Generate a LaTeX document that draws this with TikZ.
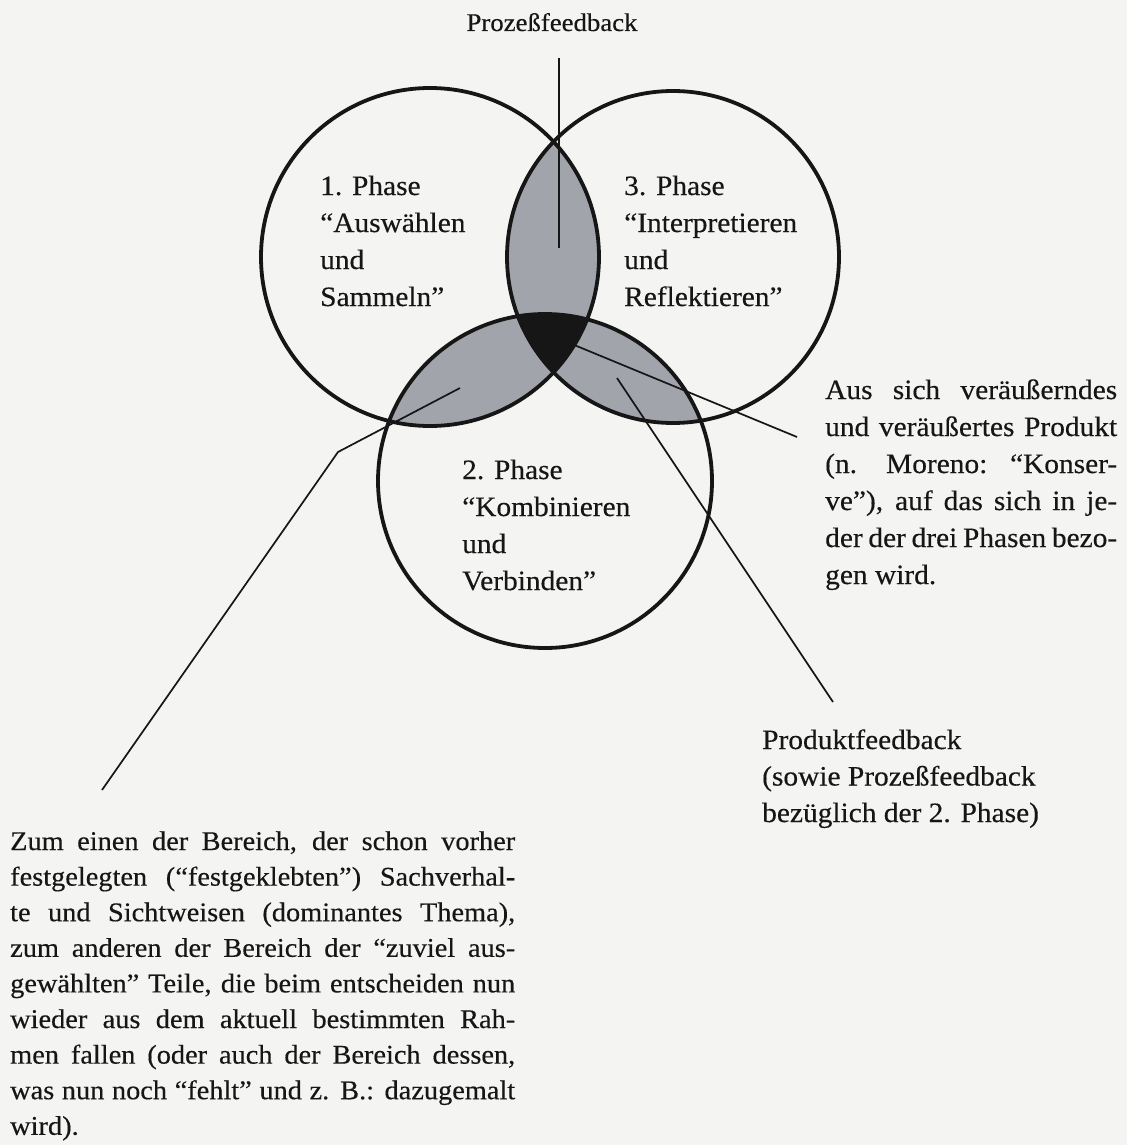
\documentclass[tikz,border=0pt]{standalone}
\usepackage{fontspec}
\setmainfont[FakeStretch=1.05,FakeBold=0.35]{Liberation Serif}
\definecolor{paper}{HTML}{F4F4F3}
\definecolor{lensgray}{HTML}{A2A4AC}
\definecolor{ink}{HTML}{161616}
\begin{document}
\begin{tikzpicture}[x=1pt,y=-1pt,
  ring/.style={circle, draw=ink, line width=3.8pt, inner sep=0pt},
  conn/.style={draw=ink, line width=1.7pt},
  lbl/.style={inner sep=0pt, anchor=base west, text=ink, font=\fontsize{28}{37}\selectfont},
  para/.style={inner sep=0pt, anchor=base west, text=ink, font=\fontsize{27}{35.6}\selectfont},
]
\fill[paper] (0,0) rectangle (1127,1145);
\useasboundingbox (0,0) rectangle (1127,1145);

% circle centres
\coordinate (c1) at (430,257);
\coordinate (c3) at (673,257);
\coordinate (c2) at (545,481);

% pairwise overlaps
\begin{scope}
  \clip (c1) circle[radius=169];
  \fill[lensgray] (c3) circle[radius=166];
  \fill[lensgray] (c2) circle[radius=167];
\end{scope}
\begin{scope}
  \clip (c2) circle[radius=167];
  \fill[lensgray] (c3) circle[radius=166];
\end{scope}
% triple overlap
\begin{scope}
  \clip (c1) circle[radius=169];
  \clip (c2) circle[radius=167];
  \fill[ink] (c3) circle[radius=166];
\end{scope}

% circles
\node[ring, minimum size=338pt] (k1) at (c1) {};
\node[ring, minimum size=332pt] (k3) at (c3) {};
\node[ring, minimum size=334pt] (k2) at (c2) {};

% connector end points
\coordinate (pfA) at (559,58);
\coordinate (pfB) at (559,248);
\coordinate (prA) at (567,342);
\coordinate (prB) at (797,437);
\coordinate (pdA) at (617,378);
\coordinate (pdB) at (833,702);
\coordinate (bdA) at (460,388);
\coordinate (bdK) at (338,452);
\coordinate (bdB) at (102,790);

\draw[conn] (pfA) -- (pfB);
\draw[conn] (prA) -- (prB);
\draw[conn] (pdA) -- (pdB);
\draw[conn] (bdA) -- (bdK) -- (bdB);

% labels
\node[lbl, anchor=base, font=\fontsize{25.5}{30}\selectfont] (pf) at (552,31) {Prozeßfeedback};

\node[lbl] (ph1) at (320,195) {\begin{tabular}[t]{@{}l@{}}1. Phase\\ “Auswählen\\ und\\ Sammeln”\end{tabular}};
\node[lbl] (ph3) at (624,195) {\begin{tabular}[t]{@{}l@{}}3. Phase\\ “Interpretieren\\ und\\ Reflektieren”\end{tabular}};
\node[lbl] (ph2) at (462,479) {\begin{tabular}[t]{@{}l@{}}2. Phase\\ “Kombinieren\\ und\\ Verbinden”\end{tabular}};

\node[lbl] (prod) at (825,399) {\begin{tabular}[t]{@{}l@{}}%
\makebox[292pt][s]{Aus sich veräußerndes}\\
\makebox[292pt][s]{und veräußertes Produkt}\\
\makebox[292pt][s]{(n. Moreno: “Konser-}\\
\makebox[292pt][s]{ve”), auf das sich in je-}\\
\makebox[292pt][s]{der der drei Phasen bezo-}\\
gen wird.\end{tabular}};

\node[lbl, font=\fontsize{28}{36.5}\selectfont] (pfb) at (762,749) {\begin{tabular}[t]{@{}l@{}}Produktfeedback\\ (sowie Prozeßfeedback\\ bezüglich der 2. Phase)\end{tabular}};

\node[para] (bereich) at (10,850) {\begin{tabular}[t]{@{}l@{}}%
\makebox[505pt][s]{Zum einen der Bereich, der schon vorher}\\
\makebox[505pt][s]{festgelegten (“festgeklebten”) Sachverhal-}\\
\makebox[505pt][s]{te und Sichtweisen (dominantes Thema),}\\
\makebox[505pt][s]{zum anderen der Bereich der “zuviel aus-}\\
\makebox[505pt][s]{gewählten” Teile, die beim entscheiden nun}\\
\makebox[505pt][s]{wieder aus dem aktuell bestimmten Rah-}\\
\makebox[505pt][s]{men fallen (oder auch der Bereich dessen,}\\
\makebox[505pt][s]{was nun noch “fehlt” und z. B.: dazugemalt}\\
wird).\end{tabular}};
\end{tikzpicture}
\end{document}
